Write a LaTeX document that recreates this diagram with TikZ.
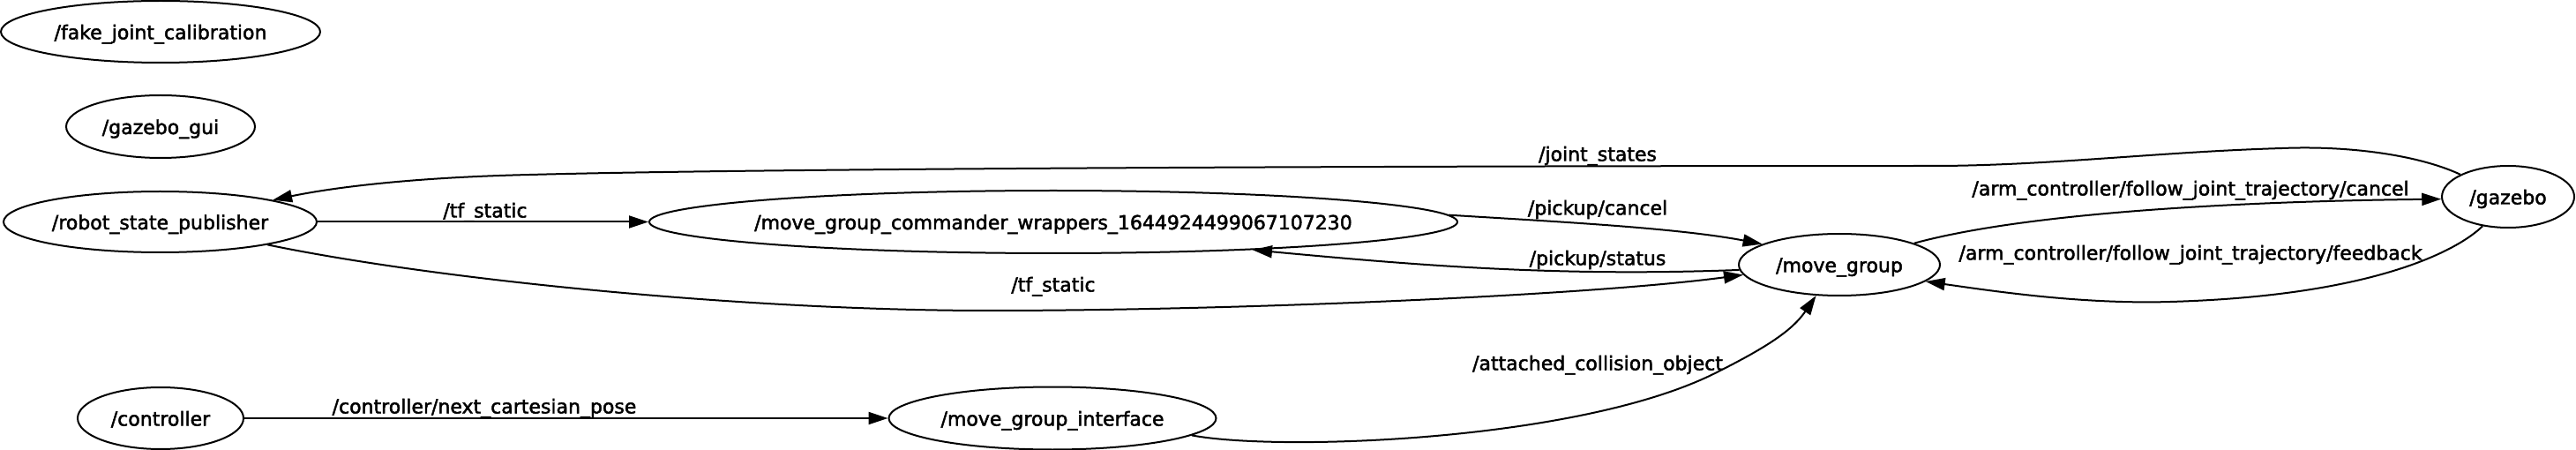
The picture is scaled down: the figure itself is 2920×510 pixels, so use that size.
\documentclass[tikz,border=0pt]{standalone}
\usepackage{fontspec}
\setmainfont{DejaVu Sans}[FakeBold=2]
\usetikzlibrary{shapes.geometric,arrows.meta}
\newcommand\zw[1]{\makebox[0pt]{#1}}
\begin{document}
\begin{tikzpicture}[x=1pt,y=-1pt,
  font=\fontsize{22pt}{26pt}\selectfont,
  nd/.style={ellipse, draw, line width=2pt, inner sep=0pt, text height=17pt, text depth=0pt},
  lbl/.style={inner sep=0pt, text height=17pt, text depth=0pt},
  conn/.style={draw, line width=2pt, -{Triangle[length=22pt,width=14pt]}}]
\useasboundingbox (0,0) rectangle (2920,510);
% nodes
\node[nd, minimum width=362pt, minimum height=70pt] (fjc) at (182,36) {\zw{/fake\_joint\_calibration}};
\node[nd, minimum width=214pt, minimum height=71pt] (gg) at (182,143.5) {\zw{/gazebo\_gui}};
\node[nd, minimum width=355pt, minimum height=69pt] (rsp) at (181.5,251.5) {\zw{/robot\_state\_publisher}};
\node[nd, minimum width=188pt, minimum height=70pt] (ctrl) at (182,474) {\zw{/controller}};
\node[nd, minimum width=916pt, minimum height=71pt] (mgcw) at (1194,251.5) {\zw{/move\_group\_commander\_wrappers\_1644924499067107230}};
\node[nd, minimum width=228pt, minimum height=70pt] (mg) at (2085,300) {\zw{/move\_group}};
\node[nd, minimum width=371pt, minimum height=71pt] (mgi) at (1193,474) {\zw{/move\_group\_interface}};
\node[nd, minimum width=150pt, minimum height=70pt] (gz) at (2843,223) {\zw{/gazebo}};
% edges
\draw[conn] (rsp) -- (mgcw);
\draw[conn] (ctrl) -- (mgi);
\draw[conn] (gz.155) .. controls (2740,175) and (2660,165) .. (2587,168)
  .. controls (2450,172) and (2330,187) .. (2200,188)
  .. controls (1700,188) and (900,190) .. (600,198)
  .. controls (470,201) and (380,212) .. (rsp.11);
\draw[conn] (mgcw.1) .. controls (1760,251) and (1900,258) .. (mg.165);
\draw[conn] (mg.183) .. controls (1760,314) and (1600,300) .. (mgcw.352);
\draw[conn] (rsp.348) .. controls (500,318) and (850,352) .. (1121,352)
  .. controls (1400,352) and (1800,335) .. (mg.186);
\draw[conn] (mgi.353) .. controls (1450,512) and (1790,500) .. (1944,423)
  .. controls (2004,393) and (2032,374) .. (mg.233);
\draw[conn] (mg.16) .. controls (2300,240) and (2550,228) .. (gz.182);
\draw[conn] (gz.229) .. controls (2790,280) and (2700,335) .. (2460,342)
  .. controls (2360,345) and (2260,330) .. (mg.349.5);
% labels
\node[lbl] (ltfa) at (550,238) {/tf\_static};
\node[lbl] (ljs) at (1811,174) {/joint\_states};
\node[lbl] (lpc) at (1811,235) {/pickup/cancel};
\node[lbl] (lps) at (1811,292) {/pickup/status};
\node[lbl] (ltfb) at (1194,322) {/tf\_static};
\node[lbl] (lctrl) at (549,460) {/controller/next\_cartesian\_pose};
\node[lbl] (laco) at (1811,411) {/attached\_collision\_object};
\node[lbl] (lac) at (2483,213) {/arm\_controller/follow\_joint\_trajectory/cancel};
\node[lbl] (laf) at (2483,286) {/arm\_controller/follow\_joint\_trajectory/feedback};
\end{tikzpicture}
\end{document}
